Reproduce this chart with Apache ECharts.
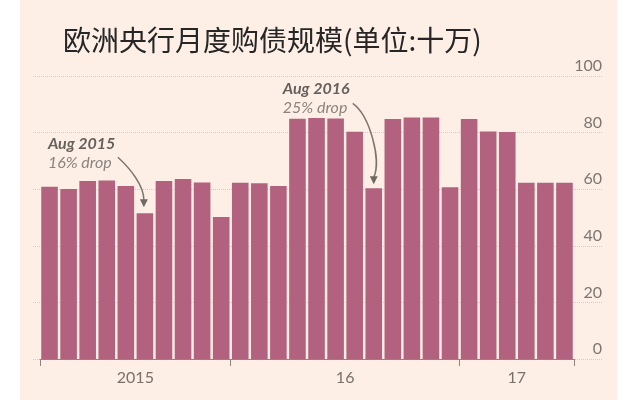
<!DOCTYPE html>
<html><head><meta charset="utf-8">
<script src="https://cdn.jsdelivr.net/npm/echarts@6/dist/echarts.min.js"></script>
<style>
html,body{margin:0;padding:0;background:#fff;}
#bg{position:absolute;left:20px;top:0;width:597px;height:400px;background:#fdefe5;}
#main{position:absolute;left:0;top:0;width:640px;height:400px;}
</style></head><body>
<div id="bg"></div><div id="main"></div>
<script>
const months = ['2015-03','2015-04','2015-05','2015-06','2015-07','2015-08','2015-09','2015-10','2015-11','2015-12',
  '2016-01','2016-02','2016-03','2016-04','2016-05','2016-06','2016-07','2016-08','2016-09','2016-10','2016-11','2016-12',
  '2017-01','2017-02','2017-03','2017-04','2017-05','2017-06'];
const purchases = [60.9,60.1,62.9,63.1,61.1,51.5,62.9,63.6,62.4,50.2,
  62.3,62.1,61.1,84.9,85.2,85.0,80.3,60.3,84.8,85.3,85.3,60.7,
  84.8,80.4,80.2,62.3,62.3,62.3];
const yTicks = [0,20,40,60,80,100];
const yearLabels = ['2015','16','17'];
const yearStarts = [0,10,22];
const yearMids = yearStarts.map((s,i)=> (s + (i+1<yearStarts.length ? yearStarts[i+1] : months.length))/2);
const annIndex = [5,17];
const annTitle = ['Aug 2015','Aug 2016'];
const annSub = ['16% drop','25% drop'];
const titleText = '欧洲央行月度购债规模(单位:十万)';

const chart = echarts.init(document.getElementById('main'), null, {renderer:'canvas'});
const option = {
  backgroundColor: 'transparent',
  animation: false,
  title: {text: titleText, left: 58, top: 21,
    textStyle: {fontFamily: 'Noto Sans CJK SC', fontSize: 28, fontWeight: 'normal', color: '#262626'}},
  grid: [
    {left: 40, right: 66, top: 76, bottom: 41},
    {left: 33, right: 38, top: 76, bottom: 41}
  ],
  xAxis: [
    {type:'category', gridIndex:0, data: months, boundaryGap: true, position:'bottom',
     axisLine:{lineStyle:{color:'#8c8580', width:1}},
     axisTick:{show:true, length:7, interval:(i)=>yearStarts.includes(i), lineStyle:{color:'#8c8580'}},
     axisLabel:{show:false}, splitLine:{show:false}},
    {type:'value', gridIndex:0, min:0, max:months.length, position:'bottom',
     axisLine:{show:false}, axisTick:{show:false}, splitLine:{show:false},
     axisLabel:{customValues: yearMids, formatter:(v)=>{const k=yearMids.indexOf(v); return k>=0?yearLabels[k]:'';},
       color:'#77706b', fontSize:16, fontFamily:'Lato', margin:11}},
    {type:'value', gridIndex:1, show:false, min:0, max:1}
  ],
  yAxis: [
    {type:'value', gridIndex:0, min:0, max:100, interval:20, show:false},
    {type:'value', gridIndex:1, min:0, max:100, interval:20, position:'right',
     axisLine:{show:false}, axisTick:{show:false},
     splitLine:{show:true, lineStyle:{color:'#d8cbc2', type:'dotted', width:1}},
     axisLabel:{inside:true, margin:0, align:'right', verticalAlign:'bottom', padding:[0,0,2,0],
       color:'#7d7671', fontSize:16, fontFamily:'Lato',
       formatter:(v)=> yTicks.includes(v) ? String(v) : ''}}
  ],
  series: [{
    type:'bar', xAxisIndex:0, yAxisIndex:0, data: purchases,
    barCategoryGap:'13%', itemStyle:{color:'#b2627e'}
  }]
};
chart.setOption(option);

const offsets = [
  {tx:-97, t1:-69, t2:-50, s:[-27,-56], c1:[-15,-45], c2:[-1,-28], e:[-1,-13], tip:[-1,-6]},
  {tx:-91, t1:-100, t2:-81, s:[-21,-85], c1:[-4,-73], c2:[8,-28], e:[0,-11], tip:[0,-4]}
];
const graphics = [];
annIndex.forEach((idx,k)=>{
  const p = chart.convertToPixel({xAxisIndex:0, yAxisIndex:0}, [idx, purchases[idx]]);
  const o = offsets[k];
  graphics.push({type:'text', x:p[0]+o.tx, y:p[1]+o.t1, z:10,
    style:{text:annTitle[k], font:'italic bold 16px Lato', fill:'#66605c', verticalAlign:'middle', align:'left'}});
  graphics.push({type:'text', x:p[0]+o.tx, y:p[1]+o.t2, z:10,
    style:{text:annSub[k], font:'italic 16px Lato', fill:'#8a837e', verticalAlign:'middle', align:'left'}});
  graphics.push({type:'bezierCurve', z:10, shape:{x1:p[0]+o.s[0], y1:p[1]+o.s[1], cpx1:p[0]+o.c1[0], cpy1:p[1]+o.c1[1],
    cpx2:p[0]+o.c2[0], cpy2:p[1]+o.c2[1], x2:p[0]+o.e[0], y2:p[1]+o.e[1]},
    style:{stroke:'#7d7670', lineWidth:1.5, fill:null}});
  const tx = p[0]+o.tip[0], ty = p[1]+o.tip[1];
  graphics.push({type:'polygon', z:10, shape:{points:[[tx-4,ty-8],[tx+4,ty-8],[tx,ty]]}, style:{fill:'#6f6964'}});
});
chart.setOption({graphic: graphics});
</script>
</body></html>
